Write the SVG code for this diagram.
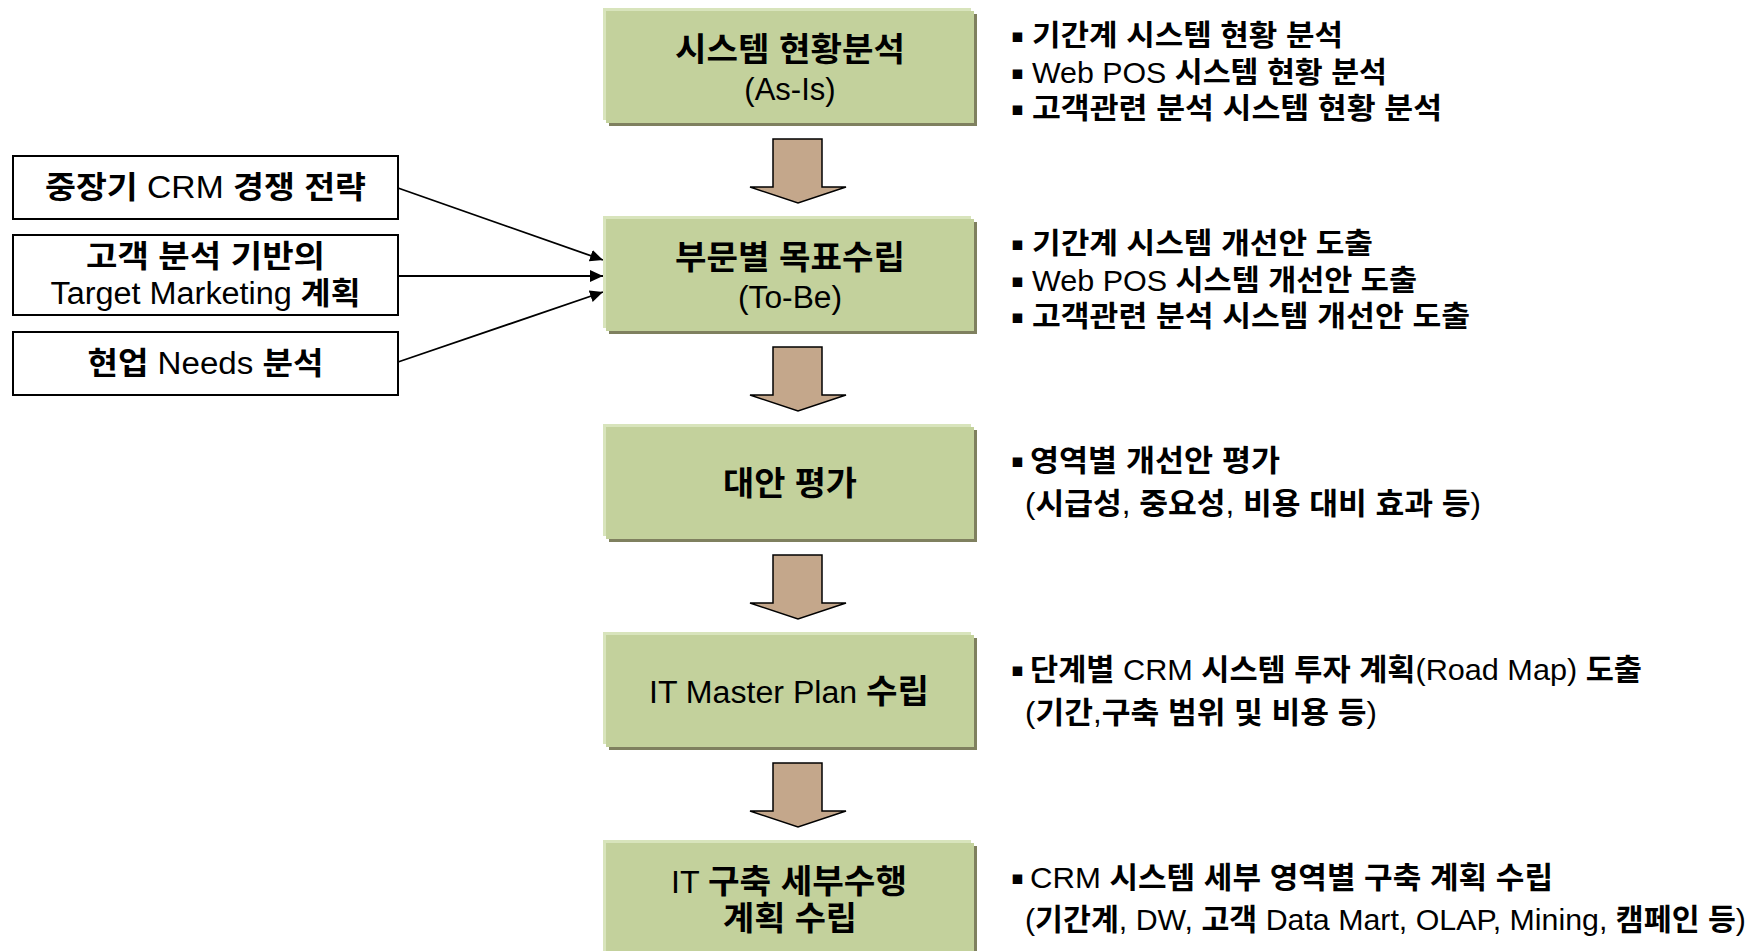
<svg xmlns="http://www.w3.org/2000/svg" width="1760" height="951" viewBox="0 0 1760 951">
  <style>
    text { font-family: "Liberation Sans", "Noto Sans CJK KR", sans-serif; fill: #000; }
    .k { font-weight: bold; }
    .box-t { font-size: 31px; text-anchor: middle; }
    .box-t .k { font-size: 33px; }
    .side { font-size: 31px; text-anchor: middle; }
    .note { font-size: 29px; }
    .note2 { font-size: 30px; }
    .bul { font-family: "DejaVu Sans", sans-serif; font-size: 19px; }
    .hl { fill: #d8e4bc; }
    .main { fill: #c3d19c; }
    .shadow { fill: #7f805f; }
    .side-box { fill: #fff; stroke: #000; stroke-width: 2; }
    .flow { fill: #c4a78b; stroke: #000; stroke-width: 1.5; stroke-linejoin: miter; }
    .link { fill: none; stroke: #000; stroke-width: 1.8; }
  </style>
  <defs>
    <marker id="tip" viewBox="0 0 13 12" refX="13" refY="6" markerWidth="13" markerHeight="12" markerUnits="userSpaceOnUse" orient="auto">
      <path d="M0,0 L13,6 L0,12 Z" fill="#000"/>
    </marker>
    <g id="stepBox">
      <rect class="shadow" x="609" y="6" width="368" height="112"/>
      <rect class="hl" x="603" y="0" width="368" height="112"/>
      <rect class="main" x="606" y="3" width="368" height="112"/>
    </g>
  </defs>

  <rect width="1760" height="951" fill="#fff"/>

  <!-- connectors: block arrows between steps and input arrows -->
  <g id="connectors">
    <polygon class="flow" points="773,139 822,139 822,187 846,187 798,203 750,187 773,187"/>
    <polygon class="flow" points="773,347 822,347 822,395 846,395 798,411 750,395 773,395"/>
    <polygon class="flow" points="773,555 822,555 822,603 846,603 798,619 750,603 773,603"/>
    <polygon class="flow" points="773,763 822,763 822,811 846,811 798,827 750,811 773,811"/>
    <line class="link" x1="398" y1="188" x2="603" y2="260" marker-end="url(#tip)"/>
    <line class="link" x1="398" y1="276" x2="603" y2="276" marker-end="url(#tip)"/>
    <line class="link" x1="398" y1="362" x2="603" y2="292" marker-end="url(#tip)"/>
  </g>

  <!-- step 1 -->
  <g id="step-asis">
    <use href="#stepBox" y="8"/>
    <text class="box-t" x="790" y="61" textLength="230" lengthAdjust="spacingAndGlyphs"><tspan class="k">시스템 현황분석</tspan></text>
    <text class="box-t" x="790" y="100">(As-Is)</text>
  </g>

  <!-- step 2 -->
  <g id="step-tobe">
    <use href="#stepBox" y="216"/>
    <text class="box-t" x="790" y="269" textLength="230" lengthAdjust="spacingAndGlyphs"><tspan class="k">부문별 목표수립</tspan></text>
    <text class="box-t" x="790" y="308" textLength="104" lengthAdjust="spacingAndGlyphs">(To-Be)</text>
  </g>

  <!-- step 3 -->
  <g id="step-eval">
    <use href="#stepBox" y="424"/>
    <text class="box-t" x="790" y="495" textLength="134" lengthAdjust="spacingAndGlyphs"><tspan class="k">대안 평가</tspan></text>
  </g>

  <!-- step 4 -->
  <g id="step-master">
    <use href="#stepBox" y="632"/>
    <text class="box-t" x="789" y="703" textLength="280" lengthAdjust="spacingAndGlyphs">IT Master Plan <tspan class="k">수립</tspan></text>
  </g>

  <!-- step 5 -->
  <g id="step-detail">
    <use href="#stepBox" y="840"/>
    <text class="box-t" x="789" y="893" textLength="236" lengthAdjust="spacingAndGlyphs">IT <tspan class="k">구축 세부수행</tspan></text>
    <text class="box-t" x="790" y="930" textLength="134" lengthAdjust="spacingAndGlyphs"><tspan class="k">계획 수립</tspan></text>
  </g>

  <!-- inputs on the left -->
  <g id="input-strategy">
    <rect class="side-box" x="13" y="156" width="385" height="63"/>
    <text class="side" x="205.5" y="198" textLength="321" lengthAdjust="spacingAndGlyphs"><tspan class="k">중장기</tspan> CRM <tspan class="k">경쟁 전략</tspan></text>
  </g>
  <g id="input-target">
    <rect class="side-box" x="13" y="235" width="385" height="80"/>
    <text class="side" x="205.5" y="267" textLength="239" lengthAdjust="spacingAndGlyphs"><tspan class="k">고객 분석 기반의</tspan></text>
    <text class="side" x="205.5" y="304" textLength="310" lengthAdjust="spacingAndGlyphs">Target Marketing <tspan class="k">계획</tspan></text>
  </g>
  <g id="input-needs">
    <rect class="side-box" x="13" y="332" width="385" height="63"/>
    <text class="side" x="205.5" y="374" textLength="236" lengthAdjust="spacingAndGlyphs"><tspan class="k">현업</tspan> Needs <tspan class="k">분석</tspan></text>
  </g>

  <!-- notes beside step 1 -->
  <g id="notes-asis">
    <text class="bul" x="1011" y="42">▪</text>
    <text class="note" x="1032" y="46" textLength="311" lengthAdjust="spacingAndGlyphs"><tspan class="k">기간계 시스템 현황 분석</tspan></text>
    <text class="bul" x="1011" y="79">▪</text>
    <text class="note" x="1032" y="83" textLength="355" lengthAdjust="spacingAndGlyphs">Web POS <tspan class="k">시스템 현황 분석</tspan></text>
    <text class="bul" x="1011" y="115">▪</text>
    <text class="note" x="1032" y="119" textLength="410" lengthAdjust="spacingAndGlyphs"><tspan class="k">고객관련 분석 시스템 현황 분석</tspan></text>
  </g>

  <!-- notes beside step 2 -->
  <g id="notes-tobe">
    <text class="bul" x="1011" y="250">▪</text>
    <text class="note" x="1032" y="254" textLength="341" lengthAdjust="spacingAndGlyphs"><tspan class="k">기간계 시스템 개선안 도출</tspan></text>
    <text class="bul" x="1011" y="287">▪</text>
    <text class="note" x="1032" y="291" textLength="385" lengthAdjust="spacingAndGlyphs">Web POS <tspan class="k">시스템 개선안 도출</tspan></text>
    <text class="bul" x="1011" y="323">▪</text>
    <text class="note" x="1032" y="327" textLength="438" lengthAdjust="spacingAndGlyphs"><tspan class="k">고객관련 분석 시스템 개선안 도출</tspan></text>
  </g>

  <!-- notes beside step 3 -->
  <g id="notes-eval">
    <text class="bul" x="1011" y="467">▪</text>
    <text class="note2" x="1030" y="471" textLength="250" lengthAdjust="spacingAndGlyphs"><tspan class="k">영역별 개선안 평가</tspan></text>
    <text class="note2" x="1025" y="514" textLength="456" lengthAdjust="spacingAndGlyphs">(<tspan class="k">시급성</tspan>, <tspan class="k">중요성</tspan>, <tspan class="k">비용 대비 효과 등</tspan>)</text>
  </g>

  <!-- notes beside step 4 -->
  <g id="notes-master">
    <text class="bul" x="1011" y="676">▪</text>
    <text class="note2" x="1030" y="680" textLength="612" lengthAdjust="spacingAndGlyphs"><tspan class="k">단계별</tspan> CRM <tspan class="k">시스템 투자 계획</tspan>(Road Map) <tspan class="k">도출</tspan></text>
    <text class="note2" x="1025" y="723" textLength="352" lengthAdjust="spacingAndGlyphs">(<tspan class="k">기간</tspan>,<tspan class="k">구축 범위 및 비용 등</tspan>)</text>
  </g>

  <!-- notes beside step 5 -->
  <g id="notes-detail">
    <text class="bul" x="1011" y="884">▪</text>
    <text class="note2" x="1030" y="888" textLength="523" lengthAdjust="spacingAndGlyphs">CRM <tspan class="k">시스템 세부 영역별 구축 계획 수립</tspan></text>
    <text class="note2" x="1025" y="930" textLength="721" lengthAdjust="spacingAndGlyphs">(<tspan class="k">기간계</tspan>, DW, <tspan class="k">고객</tspan> Data Mart, OLAP, Mining, <tspan class="k">캠페인 등</tspan>)</text>
  </g>
</svg>
